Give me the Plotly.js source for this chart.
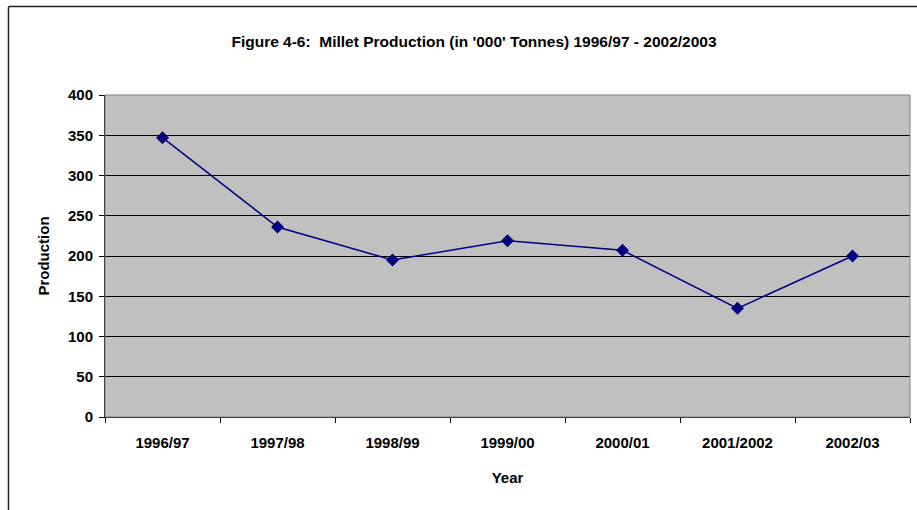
<!DOCTYPE html>
<html>
<head>
<meta charset="utf-8">
<script src="https://cdn.plot.ly/plotly-3.0.1.min.js"></script>
<style>
html,body{margin:0;padding:0;background:#fff;}
#chart{width:917px;height:510px;}
</style>
</head>
<body>
<div id="chart"></div>
<script>
var years = ["1996/97","1997/98","1998/99","1999/00","2000/01","2001/2002","2002/03"];
var production = [347, 236, 195, 219, 207, 135, 200];
var yTicks = [0, 50, 100, 150, 200, 250, 300, 350, 400];

var FONT = '"Liberation Sans Narrow", "Arial Narrow", "Liberation Sans", Arial, sans-serif';

var trace = {
  x: years,
  y: production,
  type: 'scatter',
  mode: 'lines+markers',
  line: {color: '#000080', width: 1.5},
  marker: {symbol: 'diamond', size: 10, color: '#000080'},
  hoverinfo: 'x+y'
};

var W = 917, H = 510, L = 105, R = 7, T = 95, B = 93;
var pw = W - L - R, ph = H - T - B;

var layout = {
  width: W, height: H,
  margin: {l: L, r: R, t: T, b: B, pad: 0},
  paper_bgcolor: '#ffffff',
  plot_bgcolor: '#c0c0c0',
  showlegend: false,
  font: {family: FONT, size: 15, color: '#000'},
  title: {
    text: "<b>Figure 4-6:  Millet Production (in '000' Tonnes) 1996/97 - 2002/2003</b>",
    font: {family: FONT, size: 15.5, color: '#000'},
    xref: 'container', x: 474 / W, xanchor: 'center',
    yref: 'container', y: 1 - 42 / H, yanchor: 'middle'
  },
  xaxis: {
    type: 'category',
    range: [-0.5, 6.5],
    tickson: 'boundaries',
    ticks: 'outside', ticklen: 5, tickcolor: '#000', tickwidth: 1,
    showline: true, linecolor: '#000', linewidth: 1,
    showgrid: false, zeroline: false,
    ticklabelstandoff: 12,
    tickfont: {family: FONT, size: 15, color: '#000', weight: 'bold'},
    title: {text: '<b>Year</b>', font: {family: FONT, size: 15, color: '#000'}, standoff: 22},
    fixedrange: true
  },
  yaxis: {
    range: [0, 400],
    tickvals: yTicks,
    ticktext: yTicks.map(function(v){return '<b>' + v + '</b>';}),
    ticks: 'outside', ticklen: 5, tickcolor: '#000', tickwidth: 1,
    showline: true, linecolor: '#000', linewidth: 1,
    showgrid: true, gridcolor: '#000', gridwidth: 1,
    zeroline: false,
    ticklabelstandoff: 3,
    tickfont: {family: FONT, size: 15, color: '#000'},
    title: {text: '<b>Production</b>', font: {family: FONT, size: 15, color: '#000'}, standoff: 14},
    fixedrange: true
  },
  shapes: [
    {type: 'rect', xref: 'paper', yref: 'paper', x0: 0, x1: 1, y0: 0, y1: 1,
     line: {color: '#808080', width: 1}, fillcolor: 'rgba(0,0,0,0)', layer: 'above'},
    {type: 'line', xref: 'paper', yref: 'paper',
     x0: (8.5 - L) / pw, x1: (8.5 - L) / pw, y0: (H - T - 520) / ph, y1: (H - T - 4.5) / ph,
     line: {color: '#222', width: 1.5}},
    {type: 'line', xref: 'paper', yref: 'paper',
     x0: (8.5 - L) / pw, x1: (930 - L) / pw, y0: (H - T - 4.5) / ph, y1: (H - T - 4.5) / ph,
     line: {color: '#222', width: 1.5}}
  ]
};

Plotly.newPlot('chart', [trace], layout, {displayModeBar: false, staticPlot: true});
</script>
</body>
</html>
